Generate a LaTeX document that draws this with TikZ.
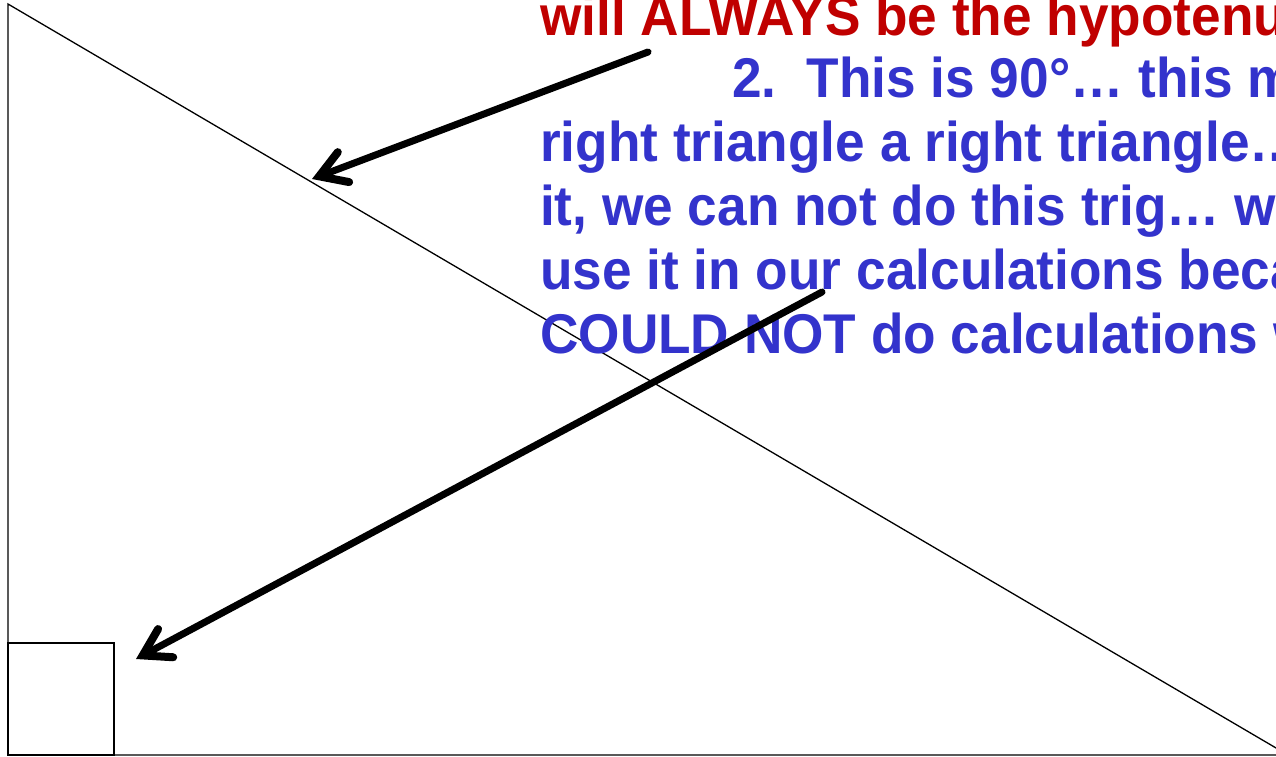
\documentclass[tikz,border=0pt]{standalone}
\usepackage{fontspec}
\setmainfont{Liberation Sans}[FakeStretch=0.95]
\usepackage{tikz}
\usetikzlibrary{arrows.meta}
\definecolor{darkred}{HTML}{C00000}
\definecolor{noteblue}{HTML}{3333CC}

\begin{document}
\begin{tikzpicture}[x=1pt,y=-1pt,
  every node/.style={font=\fontsize{56}{64}\selectfont\bfseries,inner sep=0pt},
  leg/.style={draw=black,line width=1.3pt},
  pointer/.style={-{Straight Barb[length=26pt,width=32pt,line width=8pt,line cap=round]},line width=7pt,line cap=round},
  redline/.style={text=darkred,anchor=base west},
  blueline/.style={text=noteblue,anchor=base west}]
  \useasboundingbox[fill=white] (0,0) rectangle (1276,756);
  \clip (0,0) rectangle (1276,756);
  % triangle
  \coordinate (top) at (8,4);
  \coordinate (corner) at (8,755);
  \coordinate (far) at (1288,755);
  \draw[leg] (top)--(corner)--(far)--cycle;
  \draw[leg] (8,643) rectangle (114,755);
  % text
  \node[redline] (hyp) at (540,35) {will ALWAYS be the hypotenuse};
  \node[blueline] (l1) at (732,97) {2.\hspace{30pt}This is 90°… this makes};
  \node[blueline] (l2) at (540,161) {right triangle a right triangle… without};
  \node[blueline] (l3) at (540,225) {it, we can not do this trig… we};
  \node[blueline] (l4) at (540,289) {use it in our calculations because};
  \node[blueline] (l5) at (540,353) {COULD NOT do calculations without};
  % arrows
  \coordinate (s1) at (648,52);
  \coordinate (e1) at (312,179);
  \coordinate (s2) at (822,292);
  \coordinate (e2) at (136,659);
  \draw[pointer] (s1)--(e1);
  \draw[pointer] (s2)--(e2);
\end{tikzpicture}
\end{document}
